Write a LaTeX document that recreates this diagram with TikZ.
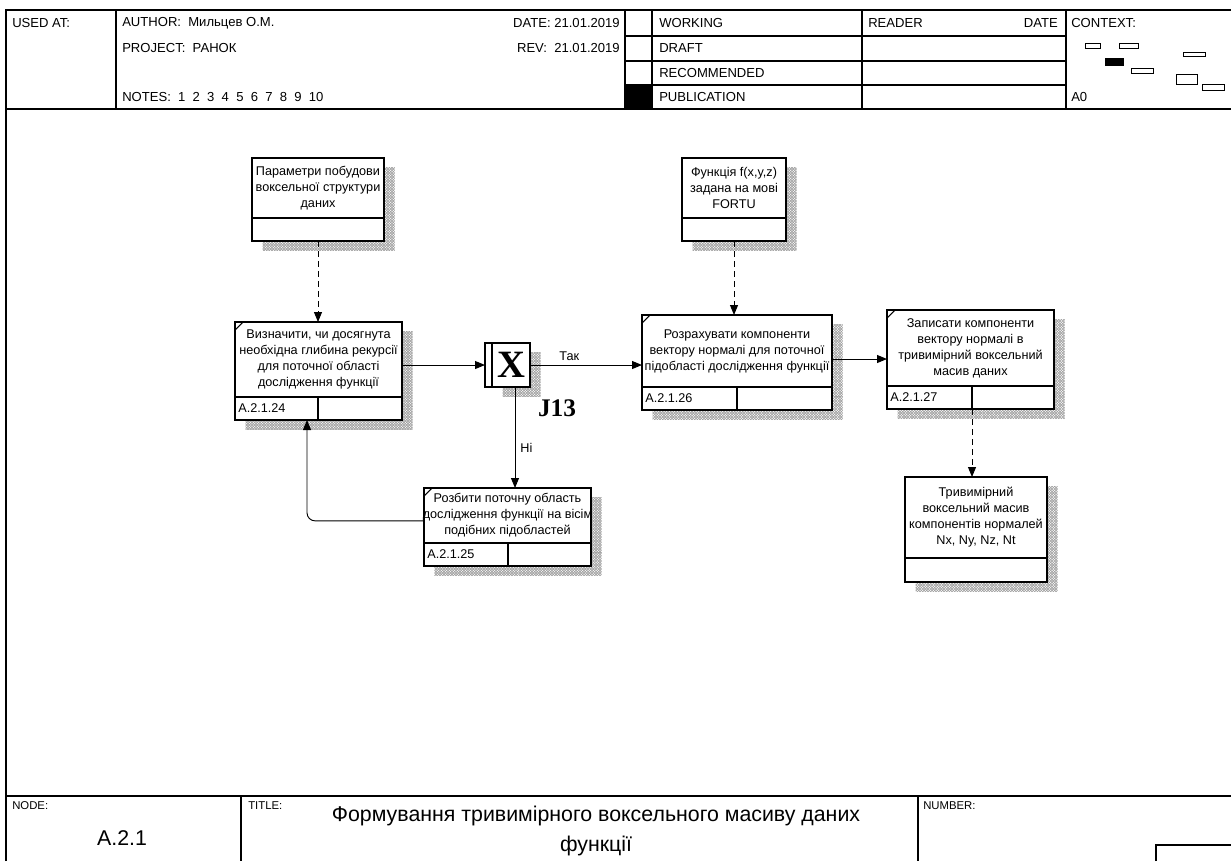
\documentclass[tikz,border=0pt]{standalone}
\usepackage{fontspec}
\setmainfont{Liberation Sans}
\newfontfamily\serifbold{Liberation Serif}
\usepackage{tikz}
\usetikzlibrary{positioning}
\usetikzlibrary{patterns}
\usetikzlibrary{shadows}
\usetikzlibrary{arrows.meta}

\pgfdeclarepatternformonly{finehatch}{\pgfqpoint{-1pt}{-1pt}}{\pgfqpoint{3pt}{3pt}}{\pgfqpoint{2pt}{2pt}}{
  \pgfsetlinewidth{0.45pt}
  \pgfpathmoveto{\pgfqpoint{0pt}{0pt}}\pgfpathlineto{\pgfqpoint{2.01pt}{2.01pt}}
  \pgfpathmoveto{\pgfqpoint{0pt}{2pt}}\pgfpathlineto{\pgfqpoint{2.01pt}{-0.01pt}}
  \pgfusepath{stroke}}

\tikzset{
  boxtext/.style={font=\fontsize{9.5}{12}\selectfont},
  idefbox/.style={draw, line width=1.1pt, fill=white, outer sep=0pt, inner sep=1pt, align=center, boxtext,
    drop shadow={shadow xshift=8pt, shadow yshift=-7pt, opacity=1, fill=none, pattern=finehatch, pattern color=gray!75}},
  idcell/.style={idefbox, minimum height=17.25pt, text width=#1, align=left, inner xsep=2.5pt, inner ysep=0pt},
  arr/.style={-{Triangle[length=7.5pt,width=6pt]}, line width=0.7pt},
  dasharr/.style={arr, dash pattern=on 4.5pt off 3pt},
  hdr/.style={anchor=west, inner sep=0.75pt, font=\fontsize{9.8}{11}\selectfont},
  ftr/.style={anchor=west, inner sep=0.75pt, font=\fontsize{8.5}{9}\selectfont},
  tick/.style={line width=0.8pt},
}

\begin{document}
\begin{tikzpicture}[x=0.75pt,y=0.75pt,yscale=-1,xscale=1]
	\useasboundingbox (0,0) rectangle (1231,861);

	%Frame
	\draw [line width=0.8pt] (6,861) -- (6,10) -- (1231,10) ;
	\draw [line width=0.8pt] (6,109) -- (1231,109) ;
	\draw [line width=0.8pt] (6,796) -- (1231,796) ;
	\draw [line width=0.8pt] (116,10) -- (116,109) ;
	\draw [line width=0.8pt] (625,10) -- (625,109) ;
	\draw [line width=0.8pt] (652,10) -- (652,109) ;
	\draw [line width=0.8pt] (862,10) -- (862,109) ;
	\draw [line width=0.8pt] (1066,10) -- (1066,109) ;
	\draw [line width=0.8pt] (625,36) -- (1066,36) ;
	\draw [line width=0.8pt] (625,61) -- (1066,61) ;
	\draw [line width=0.8pt] (625,85) -- (1066,85) ;
	\fill (625,85) rectangle (652,109) ;
	\draw [line width=0.8pt] (241,796) -- (241,861) ;
	\draw [line width=0.8pt] (918,796) -- (918,861) ;
	\draw [line width=0.8pt] (1156,861) -- (1156,845) -- (1231,845) ;

	%Context thumbnails
	\draw [line width=0.6pt] (1085,43) rectangle (1100,48) ;
	\draw [line width=0.6pt] (1119,43) rectangle (1138,48) ;
	\draw [line width=0.6pt] (1183,52) rectangle (1205,56) ;
	\fill (1105,58) rectangle (1124,66) ;
	\draw [line width=0.6pt] (1131,68) rectangle (1153,73) ;
	\draw [line width=0.6pt] (1176,74) rectangle (1197,84) ;
	\draw [line width=0.6pt] (1202,84) rectangle (1224,90) ;

	% Header Text Nodes
	\node [hdr] (usedat) at (11,23) {USED AT:};
	\node [hdr] (author) at (121,23) {AUTHOR:\ \ Мильцев О.М.};
	\node [hdr] (project) at (121,48) {PROJECT:\ \ РАНОК};
	\node [hdr] (notes) at (121,97) {NOTES:\ \ 1\ \ 2\ \ 3\ \ 4\ \ 5\ \ 6\ \ 7\ \ 8\ \ 9\ \ 10};
	\node [hdr, anchor=east] (date) at (621,23) {DATE: 21.01.2019};
	\node [hdr, anchor=east] (rev) at (621,48) {REV:\ \ 21.01.2019};
	\node [hdr] (working) at (658,23) {WORKING};
	\node [hdr] (draft) at (658,48) {DRAFT};
	\node [hdr] (recommended) at (658,73) {RECOMMENDED};
	\node [hdr] (publication) at (658,97) {PUBLICATION};
	\node [hdr] (reader) at (867,23) {READER};
	\node [hdr, anchor=east] (rdate) at (1059,23) {DATE};
	\node [hdr] (context) at (1070,23) {CONTEXT:};
	\node [hdr] (sheet) at (1070,97) {A0};

	% Footer Text Nodes
	\node [ftr] (nodelbl) at (11,806) {NODE:};
	\node [inner sep=0.75pt, font=\fontsize{16}{18}\selectfont] (nodenum) at (122,838) {A.2.1};
	\node [ftr] (titlelbl) at (247,806) {TITLE:};
	\node [inner sep=0.75pt, align=center, font=\fontsize{16}{22.5}\selectfont] (title) at (596,831) {Формування тривимірного воксельного масиву даних\\функції};
	\node [ftr] (numberlbl) at (922,806) {NUMBER:};

	% Data boxes
	\node [idefbox, minimum width=99pt, minimum height=45pt] (p1) at (318,188) {Параметри побудови\\воксельної структури\\даних};
	\node [idcell=94pt, below=0pt of p1] (p1r) {};
	\node [idefbox, minimum width=78pt, minimum height=45pt] (fn) at (734,188) {Функція f(x,y,z)\\задана на мові\\FORTU};
	\node [idcell=73pt, below=0pt of fn] (fnr) {};

	% Activity boxes
	\node [idefbox, minimum width=125.25pt, minimum height=56.25pt] (b2) at (318.5,359.5) {Визначити, чи досягнута\\\makebox[0pt]{необхідна глибина рекурсії}\\для поточної області\\дослідження функції};
	\node [idcell=57.25pt, below right=0pt and 0pt of b2.south west] (b2id) {A.2.1.24};
	\node [idcell=58pt, right=0pt of b2id] (b2x) {};
	\draw [tick] ([yshift=6pt]b2.north west) -- ([xshift=6pt]b2.north west) ;

	\node [idefbox, minimum width=142.5pt, minimum height=54pt] (b3) at (737,351) {Розрахувати компоненти\\\makebox[0pt]{вектору нормалі для поточної}\\\makebox[0pt]{підобласті дослідження функції}};
	\node [idcell=66.25pt, below right=0pt and 0pt of b3.south west] (b3id) {A.2.1.26};
	\node [idcell=66.25pt, right=0pt of b3id] (b3x) {};
	\draw [tick] ([yshift=6pt]b3.north west) -- ([xshift=6pt]b3.north west) ;

	\node [idefbox, minimum width=125.25pt, minimum height=41.25pt] (b4) at (507.5,515.5) {Розбити поточну область\\\makebox[0pt]{дослідження функції на вісім}\\подібних підобластей};
	\node [idcell=58pt, below right=0pt and 0pt of b4.south west] (b4id) {A.2.1.25};
	\node [idcell=57.25pt, right=0pt of b4id] (b4x) {};
	\draw [tick] ([yshift=6pt]b4.north west) -- ([xshift=6pt]b4.north west) ;

	\node [idefbox, minimum width=125.25pt, minimum height=57pt] (b5) at (970.5,348) {Записати компоненти\\вектору нормалі в\\тривимірний воксельний\\масив даних};
	\node [idcell=58.75pt, below right=0pt and 0pt of b5.south west] (b5id) {A.2.1.27};
	\node [idcell=56.5pt, right=0pt of b5id] (b5x) {};
	\draw [tick] ([yshift=6pt]b5.north west) -- ([xshift=6pt]b5.north west) ;

	\node [idefbox, minimum width=106.5pt, minimum height=60.75pt] (b6) at (976,517.5) {Тривимірний\\воксельний масив\\\makebox[0pt]{компонентів нормалей}\\Nx, Ny, Nz, Nt};
	\node [idcell=101.5pt, minimum height=18pt, below=0pt of b6] (b6r) {};

	% Junction
	\node [idefbox, minimum width=28.5pt, minimum height=33pt, font=\serifbold\bfseries\fontsize{29}{29}\selectfont] (j) at (511,365) {X};
	\draw [line width=1.1pt, fill=white] ([xshift=-5.25pt]j.north west) rectangle (j.south west) ;
	\node [inner sep=0.75pt, font=\serifbold\bfseries\fontsize{19}{19}\selectfont] (j13) at (557,408) {J13};

	% Connectors
	\draw [dasharr] (p1r.south) -- (p1r.south |- b2.north) ;
	\draw [dasharr] (fnr.south) -- (fnr.south |- b3.north) ;
	\draw [arr] (b2.east |- j.west) -- ([xshift=-5.25pt]j.west) ;
	\draw [arr] (j.east) -- (j.east -| b3.west) node [pos=0.35, above=2pt, boxtext, inner sep=0.75pt] (tak) {Так} ;
	\draw [arr] ([xshift=3pt]j.south) -- ([xshift=3pt]j.south |- b4.north) node [pos=0.6, right=3pt, boxtext, inner sep=0.75pt] (ni) {Ні} ;
	\draw [arr] ([yshift=6pt]b3.east) -- ([yshift=6pt]b3.east -| b5.west) ;
	\draw [dasharr] (b5id.south east) -- (b5id.south east |- b6.north) ;
	\draw [arr, rounded corners=6pt] ([yshift=4pt]b4.west) -| ([xshift=-8.25pt]b2id.south east) ;

\end{tikzpicture}
\end{document}
